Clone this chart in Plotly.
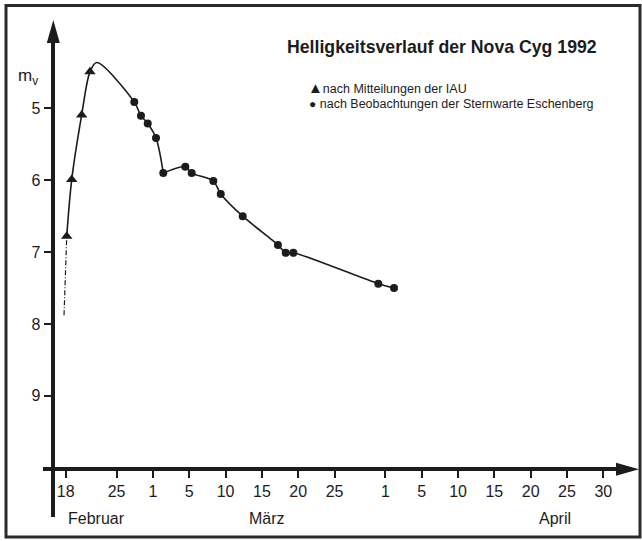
import plotly.graph_objects as go

# ---------------- data (x = drawn day number counted from 1 Feb 1992, y = visual magnitude m_v) -------------
iau_days = [18.14, 18.83, 20.2, 21.34]
iau_mag = [6.78, 5.99, 5.09, 4.49]

esch_days = [27.44, 28.36, 29.29, 30.43, 31.43, 34.46, 35.34, 38.32, 39.34,
             42.36, 47.21, 48.28, 49.33, 61.03, 63.19]
esch_mag = [4.91, 5.10, 5.21, 5.41, 5.90, 5.81, 5.90, 6.01, 6.19,
            6.50, 6.90, 7.01, 7.01, 7.44, 7.50]

# course of the hand-drawn curve: maximum between the last IAU point and first own observation
peak_day = [22.27]
peak_mag = [4.36]
# extrapolated (dashed) beginning of the curve
pre_day = [17.77]
pre_mag = [7.88]

tick_days = [18, 25, 30, 35, 40, 45, 50, 55, 62, 67, 72, 77, 82, 87, 92]
tick_text = ["18", "25", "1", "5", "10", "15", "20", "25", "1", "5", "10", "15", "20", "25", "30"]
mag_ticks = [5, 6, 7, 8, 9]

month_names = ["Februar", "März", "April"]
month_pos = [18, 45.7, 85.4]

title_text = "Helligkeitsverlauf der Nova Cyg 1992"
legend_iau = "nach Mitteilungen der IAU"
legend_esch = "nach Beobachtungen der Sternwarte Eschenberg"

# ---------------- layout geometry (pixels) ----------------
W, H = 642, 541
PL, PR, PT, PB = 43, 630, 30, 517  # plot area


def fx(px):
    return (px - PL) / (PR - PL)


def fy(py):
    return (PB - py) / (PB - PT)


INK = "#1c1c1c"
FONT = "Arial, 'Liberation Sans', Helvetica, sans-serif"

fig = go.Figure()

# dashed extrapolation
fig.add_trace(go.Scatter(x=pre_day + iau_days[:1], y=pre_mag + iau_mag[:1], mode="lines",
                         line=dict(color=INK, width=1.2, dash="5px,2px,1px,2px"), hoverinfo="skip",
                         showlegend=False))

# smooth curve: two pieces, with a corner at the 5th own observation
curve_x = iau_days + peak_day + esch_days[:5] + [None] + esch_days[4:]
curve_y = iau_mag + peak_mag + esch_mag[:5] + [None] + esch_mag[4:]
fig.add_trace(go.Scatter(x=curve_x, y=curve_y, mode="lines", connectgaps=False,
                         line=dict(color=INK, width=1.6, shape="spline", smoothing=0.9),
                         hoverinfo="skip", showlegend=False))

fig.add_trace(go.Scatter(x=iau_days, y=iau_mag, mode="markers", name=legend_iau,
                         marker=dict(symbol="triangle-up", size=10, color=INK),
                         showlegend=False))
fig.add_trace(go.Scatter(x=esch_days, y=esch_mag, mode="markers", name=legend_esch,
                         marker=dict(symbol="circle", size=8, color=INK),
                         showlegend=False))

axis_font = dict(family=FONT, size=16, color=INK)

fig.update_layout(
    width=W, height=H,
    margin=dict(l=PL, r=W - PR, t=PT, b=H - PB, autoexpand=False),
    paper_bgcolor="white", plot_bgcolor="white",
    showlegend=False,
    xaxis=dict(range=[14.875, 95.67], tickmode="array", tickvals=tick_days, ticktext=tick_text,
               showgrid=False, zeroline=False, showline=True, linecolor=INK, linewidth=3.5,
               ticks="outside", ticklen=7, tickwidth=2, tickcolor=INK, tickfont=axis_font,
               anchor="free", position=fy(469.3), automargin=False),
    yaxis=dict(range=[10.689, 3.907], tickmode="array", tickvals=mag_ticks,
               showgrid=False, zeroline=False, showline=True, linecolor=INK, linewidth=3.5,
               ticks="outside", ticklen=8, tickwidth=2, tickcolor=INK, tickfont=axis_font,
               anchor="free", position=fx(53.3), automargin=False),
)

shapes = []
# arrowheads
shapes.append(dict(type="path", xref="paper", yref="paper", fillcolor=INK, line=dict(width=0),
                   path=f"M {fx(639)} {fy(469.3)} L {fx(616)} {fy(462.8)} L {fx(616)} {fy(475.8)} Z"))
shapes.append(dict(type="path", xref="paper", yref="paper", fillcolor=INK, line=dict(width=0),
                   path=f"M {fx(53.3)} {fy(20)} L {fx(46.8)} {fy(43)} L {fx(59.8)} {fy(43)} Z"))
# frame
shapes.append(dict(type="rect", xref="paper", yref="paper", x0=fx(6), x1=fx(640), y0=fy(5.5), y1=fy(537),
                   line=dict(color="#2a2a2a", width=3)))
fig.update_layout(shapes=shapes)

ann = []
ann.append(dict(text=f"<b>{title_text}</b>", xref="paper", yref="paper", x=fx(285), y=fy(47),
                xanchor="left", yanchor="middle", showarrow=False,
                font=dict(family=FONT, size=17.7, color=INK)))
ann.append(dict(text="<span style='font-size:15px'>▲</span>" + legend_iau, xref="paper", yref="paper",
                x=fx(306), y=fy(87), xanchor="left", yanchor="middle", showarrow=False,
                font=dict(family=FONT, size=12.5, color=INK)))
ann.append(dict(text="<span style='font-size:12px'>●</span> " + legend_esch, xref="paper", yref="paper",
                x=fx(306.5), y=fy(104), xanchor="left", yanchor="middle", showarrow=False,
                font=dict(family=FONT, size=12.5, color=INK)))
ann.append(dict(text="m<sub>v</sub>", xref="paper", yref="paper", x=fx(16), y=fy(77),
                xanchor="left", yanchor="middle", showarrow=False,
                font=dict(family=FONT, size=17, color=INK)))
for name, pos in zip(month_names, month_pos):
    ann.append(dict(text=name, xref="x", yref="paper", x=pos, y=fy(518),
                    xanchor="left" if name == month_names[0] else "center", yanchor="middle",
                    showarrow=False, font=dict(family=FONT, size=16, color=INK)))
fig.update_layout(annotations=ann)

fig.write_html("out.html", config={"displayModeBar": False},
               post_script="document.body.style.margin='0';document.body.style.overflow='hidden';")
